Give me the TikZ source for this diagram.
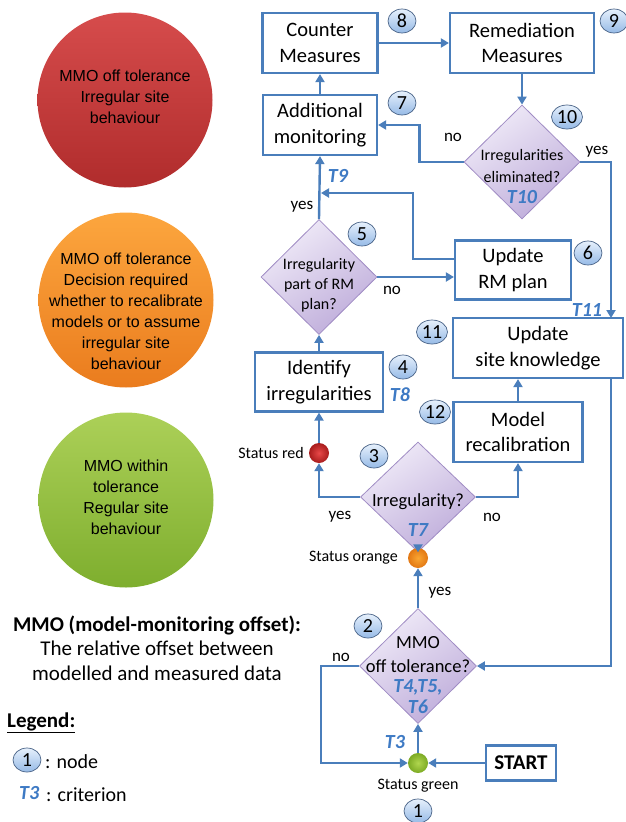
\documentclass[tikz,border=0pt]{standalone}
\usepackage{fontspec}
\setmainfont{Carlito}
\newfontfamily\signfont{Liberation Sans}
\usetikzlibrary{shapes.geometric,arrows.meta}

\definecolor{flowblue}{RGB}{74,126,187}
\definecolor{critblue}{RGB}{62,122,196}
\definecolor{diatop}{RGB}{240,235,248}
\definecolor{diabot}{RGB}{190,172,218}
\definecolor{diaedge}{RGB}{160,140,196}
\definecolor{badgetop}{RGB}{230,240,252}
\definecolor{badgebot}{RGB}{150,186,230}
\definecolor{badgeedge}{RGB}{72,98,134}
\definecolor{signred}{RGB}{214,76,76}
\definecolor{signreddark}{RGB}{176,44,44}
\definecolor{signorange}{RGB}{252,166,62}
\definecolor{signorangedark}{RGB}{234,124,30}
\definecolor{signgreen}{RGB}{172,208,88}
\definecolor{signgreendark}{RGB}{126,174,46}
\definecolor{dotred}{RGB}{232,72,72}
\definecolor{dotreddark}{RGB}{168,28,28}
\definecolor{dotorange}{RGB}{250,166,50}
\definecolor{dotorangedark}{RGB}{226,120,20}
\definecolor{dotgreen}{RGB}{176,214,78}
\definecolor{dotgreendark}{RGB}{124,170,36}

\begin{document}
\begin{tikzpicture}[x=1pt,y=-1pt]
\tikzset{
  box/.style={draw=flowblue, line width=2.2pt, fill=white, align=center, inner sep=0pt, font=\fontsize{20.5}{25.5}\selectfont},
  decision/.style={diamond, aspect=1, draw=diaedge, line width=0.8pt, top color=diatop, bottom color=diabot, shading angle=35, inner sep=0pt},
  question/.style={align=center, inner sep=0pt},
  crit/.style={text=critblue, font=\fontsize{20}{21}\selectfont\bfseries\itshape, inner sep=0pt, align=center},
  badge/.style={ellipse, draw=badgeedge, line width=0.7pt, top color=badgetop, bottom color=badgebot, minimum width=28pt, minimum height=24pt, inner sep=0pt, font=\fontsize{20}{20}\selectfont},
  status/.style={circle, minimum size=20pt, inner sep=0pt},
  sign/.style={circle, minimum size=175pt, inner sep=0pt},
  signtext/.style={align=center, inner sep=0pt, font=\signfont\fontsize{16}{21}\selectfont},
  answer/.style={font=\fontsize{17}{17}\selectfont, inner sep=0pt},
  flow/.style={draw=flowblue, line width=2.4pt, -{Triangle[width=9pt,length=8pt]}}
}
\useasboundingbox (0,0) rectangle (626,822);

        \node[sign, top color=signred, bottom color=signreddark] (redsign) at (125,100) {};
        \node[signtext] (redtext) at (125,97) {MMO off tolerance\\Irregular site\\behaviour};
        \node[sign, top color=signorange, bottom color=signorangedark] (orangesign) at (126,300) {};
        \node[signtext] (orangetext) at (126,311) {MMO off tolerance\\Decision required\\whether to recalibrate\\models or to assume\\irregular site\\behaviour};
        \node[sign, top color=signgreen, bottom color=signgreendark] (greensign) at (126,500) {};
        \node[signtext] (greentext) at (126,497) {MMO within\\tolerance\\Regular site\\behaviour};

        \node[box, minimum width=115pt, minimum height=60pt] (counter) at (320,43) {Counter\\Measures};
        \node[box, minimum width=144pt, minimum height=60pt] (remed) at (522,43) {Remediation\\Measures};
        \node[box, minimum width=114pt, minimum height=60pt] (addmon) at (320,125) {Additional\\monitoring};
        \node[box, minimum width=116pt, minimum height=59pt] (rmplan) at (513,270) {Update\\RM plan};
        \node[box, minimum width=170pt, minimum height=60pt] (siteknow) at (538,348) {Update\\site knowledge};
        \node[box, minimum width=128pt, minimum height=59pt] (identify) at (319,382) {Identify\\irregularities};
        \node[box, minimum width=129pt, minimum height=60pt] (recal) at (518,432) {Model\\recalibration};
        \node[box, minimum width=70pt, minimum height=35pt, font=\fontsize{21}{21}\selectfont\bfseries] (start) at (521,763) {START};

        \node[decision, minimum width=116pt, minimum height=114pt] (elim) at (522,162) {};
        \node[question, font=\fontsize{16}{22}\selectfont] (elimtext) at (522,166) {Irregularities\\eliminated?};
        \node[crit] (t10) at (522,197) {T10};
        \node[decision, minimum width=116pt, minimum height=115pt] (inplan) at (319,277) {};
        \node[question, font=\fontsize{16}{20}\selectfont] (inplantext) at (319,285) {Irregularity\\part of RM\\plan?};
        \node[decision, minimum width=115pt, minimum height=110pt] (irreg) at (418,497) {};
        \node[question, font=\fontsize{18.5}{22}\selectfont] (irregtext) at (418,502) {Irregularity?};
        \node[crit] (t7) at (418,530) {T7};
        \node[decision, minimum width=117pt, minimum height=115pt] (offtol) at (418,666) {};
        \node[question, font=\fontsize{18.5}{24}\selectfont] (offtoltext) at (418,655) {MMO\\off tolerance?};
        \node[crit] (t456) at (418,697) {T4,T5,\\T6};

        \node[status, inner color=dotred, outer color=dotreddark] (sred) at (319,453) {};
        \node[status, inner color=dotorange, outer color=dotorangedark] (sorange) at (418,558) {};
        \node[status, inner color=dotgreen, outer color=dotgreendark] (sgreen) at (418,763) {};
        \node[anchor=east, font=\fontsize{16}{16}\selectfont, inner sep=0pt] (lred) at (304,453) {Status red};
        \node[anchor=east, font=\fontsize{16}{16}\selectfont, inner sep=0pt] (lorange) at (398,558) {Status orange};
        \node[font=\fontsize{16}{16}\selectfont, inner sep=0pt] (lgreen) at (418,786) {Status green};

        \coordinate (k11) at (611,318);
        \coordinate (j9) at (321,193);

        \draw[flow] (counter.east) -- (remed.west);
        \draw[flow] (addmon.north) -- (counter.south);
        \draw[flow] (remed.south) -- (elim.north);
        \draw[flow] (elim.west) -- ++(-44,0) |- (addmon.east);
        \draw[flow] (elim.east) -| (k11);
        \draw[flow] (inplan.north) -- (addmon.south);
        \draw[flow] ([yshift=11pt]rmplan.west) -- ++(-41,0) |- (j9);
        \draw[flow] (inplan.east) -- (inplan.east -| rmplan.west);
        \draw[flow] (identify.north) -- (inplan.south);
        \draw[flow] (sred.north) -- (identify.south);
        \draw[flow] (irreg.west) -| (sred.south);
        \draw[flow] (irreg.east) -| (recal.south);
        \draw[flow] (recal.north) -- (recal.north |- siteknow.south);
        \draw[flow] (k11 |- siteknow.south) |- (offtol.east);
        \draw[flow] (offtol.north) -- (sorange.south);
        \draw[flow] (sorange.north) -- (irreg.south);
        \draw[flow] (offtol.west) -- ++(-38,0) |- (sgreen.west);
        \draw[flow] (start.west) -- (sgreen.east);
        \draw[flow] (sgreen.north) -- (offtol.south);

        \node[answer] (anoelim) at (453,137) {no};
        \node[answer] (ayeselim) at (597,152) {yes};
        \node[answer] (ayesplan) at (302,207) {yes};
        \node[answer] (anoplan) at (392,290) {no};
        \node[answer] (ayesirreg) at (340,517) {yes};
        \node[answer] (anoirreg) at (492,517) {no};
        \node[answer] (ayestol) at (440,593) {yes};
        \node[answer] (anotol) at (341,657) {no};

        \node[crit] (t9) at (338,176) {T9};
        \node[crit] (t11) at (587,310) {T11};
        \node[crit] (t8) at (400,395) {T8};
        \node[crit] (t3) at (395,742) {T3};

        \node[badge] (n1) at (418,811) {1};
        \node[badge] (n2) at (368,626) {2};
        \node[badge] (n3) at (374,456) {3};
        \node[badge] (n4) at (403,367) {4};
        \node[badge] (n5) at (362,234) {5};
        \node[badge] (n6) at (588,253) {6};
        \node[badge] (n7) at (402,103) {7};
        \node[badge] (n8) at (402,21) {8};
        \node[badge] (n9) at (614,21) {9};
        \node[badge, minimum width=31pt] (n10) at (567,117) {10};
        \node[badge, minimum width=31pt] (n11) at (432,332) {11};
        \node[badge, minimum width=31pt] (n12) at (435,412) {12};

        \node[align=center, font=\fontsize{21}{24.5}\selectfont, inner sep=0pt] (mmodef) at (157,648) {\bfseries MMO (model-monitoring offset):\\The relative offset between\\modelled and measured data};
        \node[anchor=west, font=\fontsize{21}{21}\selectfont\bfseries, inner sep=0pt] (legtitle) at (7,723) {\underline{Legend:}};
        \node[badge] (legbadge) at (27,760) {1};
        \node[anchor=west, font=\fontsize{20}{20}\selectfont, inner sep=0pt] (legnode) at (45,762) {: node};
        \node[crit, anchor=west] (legcrit) at (19,793) {T3};
        \node[anchor=west, font=\fontsize{20}{20}\selectfont, inner sep=0pt] (legcrittext) at (46,795) {: criterion};
\end{tikzpicture}
\end{document}
